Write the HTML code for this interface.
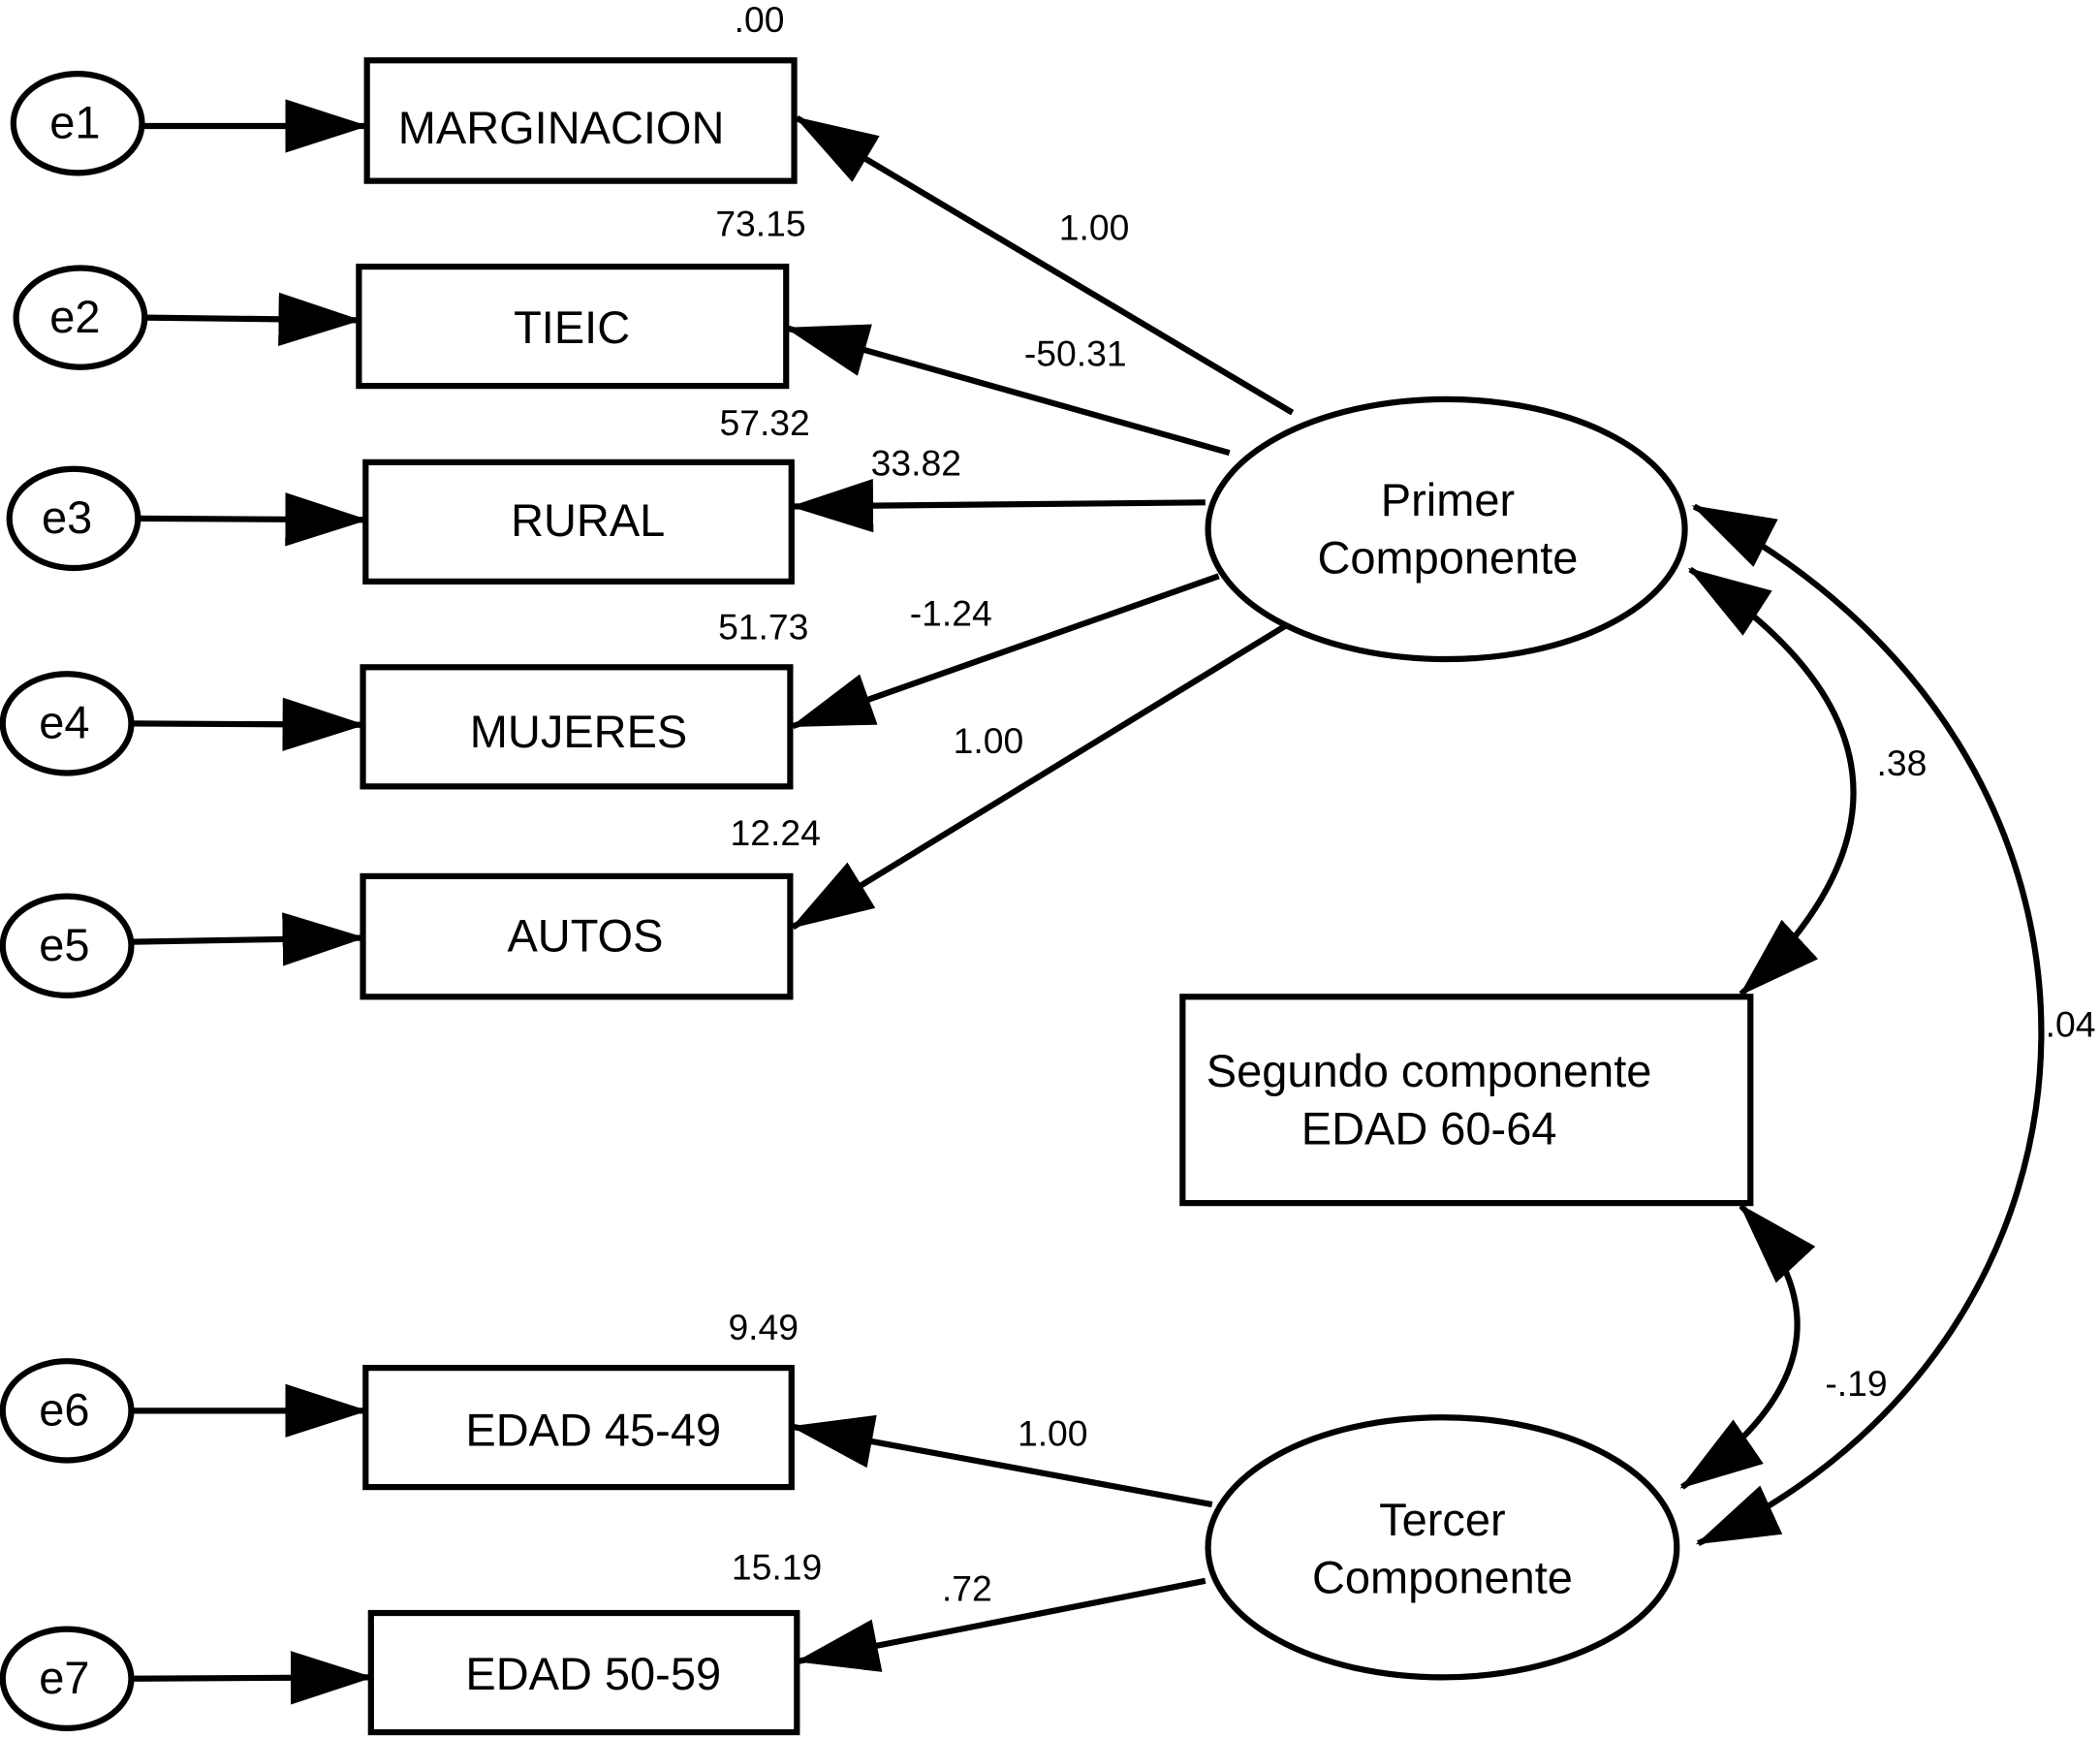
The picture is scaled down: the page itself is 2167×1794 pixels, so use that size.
<!DOCTYPE html>
<html><head><meta charset="utf-8"><style>html,body{margin:0;padding:0;background:#fff}svg{display:block}</style></head>
<body>
<svg width="2167" height="1794" viewBox="0 0 1568 1298" xmlns="http://www.w3.org/2000/svg" font-family="Liberation Sans, Arial, sans-serif">
<defs>
<marker id="a" markerUnits="userSpaceOnUse" markerWidth="62" markerHeight="40" refX="60" refY="20" orient="auto"><path d="M0,0 L62,20 L0,40 Z" fill="#000"/></marker>
<marker id="s" markerUnits="userSpaceOnUse" markerWidth="62" markerHeight="40" refX="2" refY="20" orient="auto"><path d="M62,0 L0,20 L62,40 Z" fill="#000"/></marker>
</defs>
<rect width="1568" height="1298" fill="#fff"/>
<g fill="none" stroke="#000" stroke-width="4.5">
<ellipse cx="58" cy="92" rx="48" ry="37"/>
<ellipse cx="60" cy="237" rx="48" ry="37"/>
<ellipse cx="55" cy="387" rx="48" ry="37"/>
<ellipse cx="50" cy="540" rx="48" ry="37"/>
<ellipse cx="50" cy="706" rx="48" ry="37"/>
<ellipse cx="50" cy="1053" rx="48" ry="37"/>
<ellipse cx="50" cy="1253" rx="48" ry="37"/>
<rect x="274" y="45" width="319" height="90"/>
<rect x="268" y="199" width="319" height="89"/>
<rect x="273" y="345" width="318" height="89"/>
<rect x="271" y="498" width="319" height="89"/>
<rect x="271" y="654" width="319" height="90"/>
<rect x="273" y="1021" width="318" height="89"/>
<rect x="277" y="1204" width="318" height="89"/>
<rect x="883" y="744" width="424" height="154"/>
<ellipse cx="1080" cy="395" rx="178" ry="97"/>
<ellipse cx="1077" cy="1155" rx="175" ry="97"/>
<g marker-end="url(#a)">
<line x1="106" y1="94" x2="273" y2="94"/>
<line x1="108" y1="237" x2="268" y2="239"/>
<line x1="103" y1="387" x2="273" y2="388"/>
<line x1="98" y1="540" x2="271" y2="541"/>
<line x1="98" y1="703" x2="271" y2="700"/>
<line x1="98" y1="1053" x2="273" y2="1053"/>
<line x1="98" y1="1253" x2="277" y2="1252"/>
<line x1="965" y1="308" x2="595" y2="88"/>
<line x1="918" y1="338" x2="588" y2="245"/>
<line x1="900" y1="375" x2="592" y2="378"/>
<line x1="910" y1="430" x2="592" y2="542"/>
<line x1="960" y1="467" x2="592" y2="692"/>
<line x1="905" y1="1123" x2="592" y2="1065"/>
<line x1="900" y1="1180" x2="596" y2="1240"/>
</g>
<g marker-start="url(#s)" marker-end="url(#a)">
<path d="M1262,425 Q1485,570 1300,742"/>
<path d="M1300,900 Q1402,1010 1256,1110"/>
<path d="M1265,378 C1620,560 1600,1000 1268,1152"/>
</g>
</g>
<g font-size="27" fill="#000" text-anchor="middle">
<text x="567" y="24">.00</text>
<text x="817" y="179">1.00</text>
<text x="568" y="176">73.15</text>
<text x="803" y="273">-50.31</text>
<text x="571" y="325">57.32</text>
<text x="684" y="355">33.82</text>
<text x="570" y="477">51.73</text>
<text x="710" y="467">-1.24</text>
<text x="738" y="562">1.00</text>
<text x="579" y="631">12.24</text>
<text x="570" y="1000">9.49</text>
<text x="786" y="1079">1.00</text>
<text x="580" y="1179">15.19</text>
<text x="722" y="1195">.72</text>
<text x="1420" y="579">.38</text>
<text x="1546" y="774">.04</text>
<text x="1386" y="1042">-.19</text>
</g>
<g font-size="34" fill="#000" text-anchor="middle">
<text x="56" y="103">e1</text>
<text x="56" y="248">e2</text>
<text x="50" y="398">e3</text>
<text x="48" y="551">e4</text>
<text x="48" y="717">e5</text>
<text x="48" y="1064">e6</text>
<text x="48" y="1264">e7</text>
<text x="419" y="107">MARGINACION</text>
<text x="427" y="256">TIEIC</text>
<text x="439" y="400">RURAL</text>
<text x="432" y="558">MUJERES</text>
<text x="437" y="710">AUTOS</text>
<text x="443" y="1079">EDAD 45-49</text>
<text x="443" y="1261">EDAD 50-59</text>
<text x="1067" y="811">Segundo componente</text>
<text x="1067" y="854">EDAD 60-64</text>
<text x="1081" y="385">Primer</text>
<text x="1081" y="428">Componente</text>
<text x="1077" y="1146">Tercer</text>
<text x="1077" y="1189">Componente</text>
</g>
</svg>
</body></html>
